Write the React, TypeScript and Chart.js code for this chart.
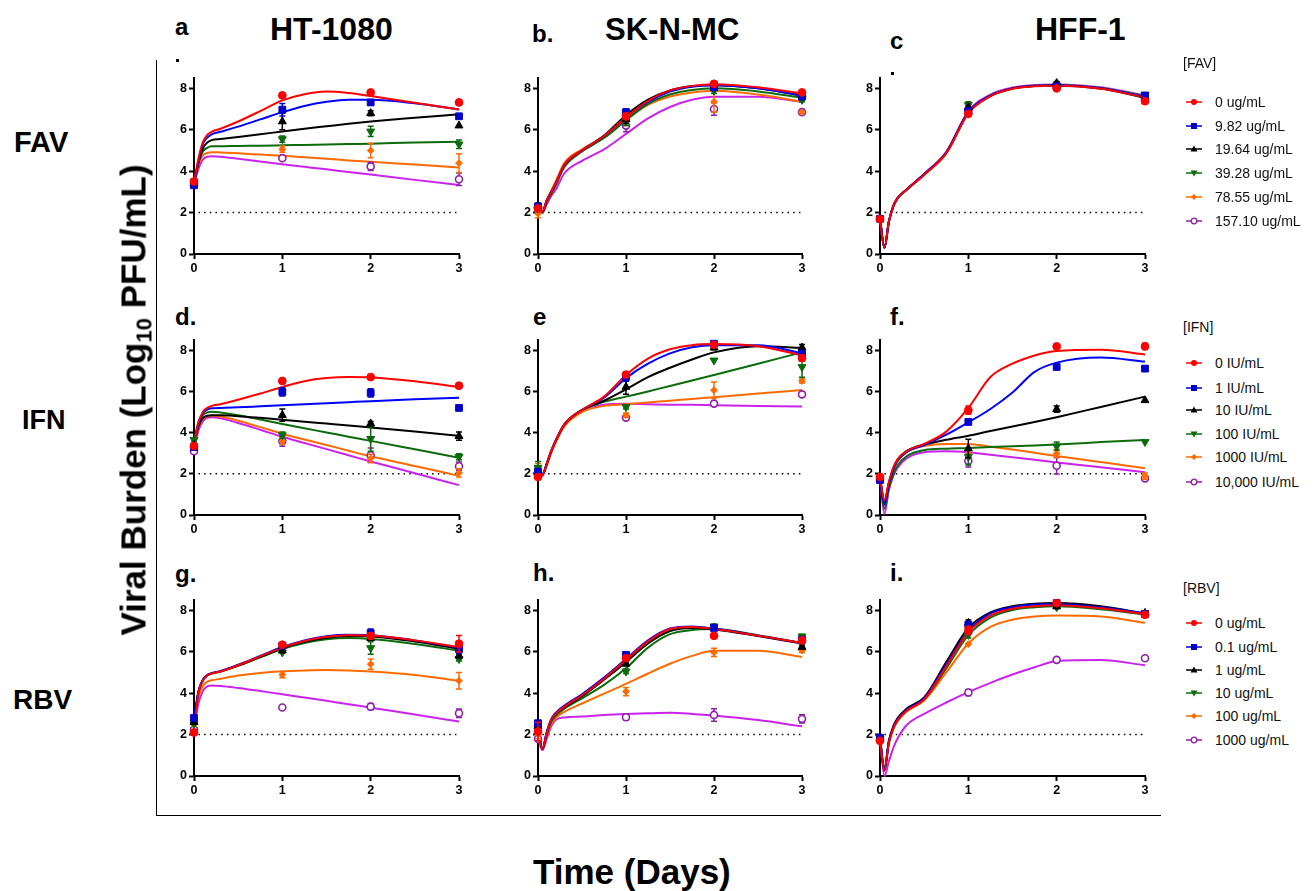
import React, { useEffect, useRef } from 'react';
import { Chart, registerables } from 'chart.js';
Chart.register(...registerables);

const FONT = "'Liberation Sans', Arial, Helvetica, sans-serif";

// ---------- data ----------
const DAYS = [0, 1, 2, 3];
const FIT_T = [0, 0.05, 0.1, 0.15, 0.2, 0.3, 0.5, 0.75, 1, 1.25, 1.5, 1.75, 2, 2.5, 3];
const Y_TICKS = [0, 2, 4, 6, 8];
const X_TICKS = [0, 1, 2, 3];
const LOD = 2;

const COL_TITLES = ['HT-1080', 'SK-N-MC', 'HFF-1'];
const ROW_TITLES = ['FAV', 'IFN', 'RBV'];
const PANEL_LETTERS = ['a', 'b.', 'c', 'd.', 'e', 'f.', 'g.', 'h.', 'i.'];
const LEGEND_TITLES = ['[FAV]', '[IFN]', '[RBV]'];
const FAV_LABELS = ['0 ug/mL', '9.82 ug/mL', '19.64 ug/mL', '39.28 ug/mL', '78.55 ug/mL', '157.10 ug/mL'];
const IFN_LABELS = ['0 IU/mL', '1 IU/mL', '10 IU/mL', '100 IU/mL', '1000 IU/mL', '10,000 IU/mL'];
const RBV_LABELS = ['0 ug/mL', '0.1 ug/mL', '1 ug/mL', '10 ug/mL', '100 ug/mL', '1000 ug/mL'];

// panel a: HT-1080 / FAV
const A_PTS = [[3.5, 7.66, 7.8, 7.32], [3.32, 6.97, 7.32, 6.65], [3.4, 6.4, 6.8, 6.2], [3.5, 5.55, 5.92, 5.3], [3.5, 5.06, 5.0, 4.39], [3.4, 4.63, 4.23, 3.61]];
const A_ERR = [[0.1, 0, 0, 0], [0.1, 0.3, 0.1, 0], [0, 0.4, 0.12, 0], [0, 0.15, 0.25, 0.2], [0, 0.15, 0.35, 0.45], [0, 0.1, 0.2, 0.3]];
const A_FIT = [
  [3.5, 4.6, 5.4, 5.75, 5.9, 6.05, 6.4, 6.9, 7.42, 7.72, 7.85, 7.78, 7.63, 7.3, 6.98],
  [3.35, 4.5, 5.3, 5.62, 5.78, 5.9, 6.15, 6.5, 6.85, 7.15, 7.35, 7.45, 7.45, 7.28, 6.98],
  [3.4, 4.4, 5.1, 5.38, 5.5, 5.55, 5.65, 5.78, 5.92, 6.05, 6.17, 6.29, 6.4, 6.58, 6.75],
  [3.5, 4.4, 4.95, 5.13, 5.2, 5.2, 5.22, 5.23, 5.25, 5.27, 5.29, 5.31, 5.33, 5.38, 5.42],
  [3.5, 4.3, 4.75, 4.88, 4.92, 4.9, 4.86, 4.8, 4.74, 4.67, 4.6, 4.52, 4.45, 4.32, 4.18],
  [3.4, 4.1, 4.55, 4.7, 4.72, 4.7, 4.6, 4.47, 4.33, 4.21, 4.09, 3.96, 3.84, 3.58, 3.33],
];

// panel b: SK-N-MC / FAV
const B_PTS = [[2.2, 6.65, 8.22, 7.8], [2.3, 6.85, 8.05, 7.6], [2.35, 6.5, 8.05, 7.7], [2.2, 6.4, 7.9, 7.45], [1.95, 6.4, 7.35, 6.85], [2.25, 6.2, 7.0, 6.85]];
const B_ERR = [[0.1, 0.15, 0, 0], [0.1, 0.15, 0.1, 0.1], [0.1, 0.2, 0.1, 0.1], [0.1, 0.2, 0.15, 0.1], [0.2, 0.2, 0.5, 0], [0.1, 0.3, 0.3, 0]];
const B_FIT = [
  [2.2, 2.05, 2.6, 3.0, 3.4, 4.3, 5.0, 5.7, 6.6, 7.4, 7.9, 8.12, 8.2, 8.05, 7.75],
  [2.3, 2.05, 2.6, 3.0, 3.4, 4.3, 5.0, 5.7, 6.6, 7.35, 7.85, 8.08, 8.15, 8.0, 7.65],
  [2.35, 2.05, 2.6, 3.0, 3.4, 4.3, 5.0, 5.72, 6.7, 7.45, 7.9, 8.1, 8.15, 8.0, 7.65],
  [2.2, 2.0, 2.5, 2.9, 3.3, 4.2, 4.95, 5.6, 6.45, 7.25, 7.7, 7.92, 8.0, 7.85, 7.55],
  [1.95, 2.0, 2.6, 3.05, 3.5, 4.4, 5.05, 5.65, 6.5, 7.2, 7.6, 7.8, 7.88, 7.7, 7.35],
  [2.25, 2.0, 2.4, 2.8, 3.1, 3.9, 4.5, 5.05, 5.8, 6.55, 7.1, 7.45, 7.6, 7.6, 7.35],
];

// panel c: HFF-1 / FAV
const C_PTS = [[1.68, 6.77, 8.0, 7.38], [1.7, 6.9, 8.1, 7.65], [1.7, 7.1, 8.25, 7.6], [1.7, 7.2, 8.15, 7.7], [1.7, 7.1, 8.1, 7.5], [1.7, 6.9, 8.1, 7.45]];
const C_ERR = [[0, 0, 0, 0], [0, 0, 0, 0], [0, 0, 0.08, 0], [0, 0.15, 0.1, 0], [0, 0.1, 0, 0], [0, 0, 0, 0]];
const C_FIT = [
  [1.7, 0.3, 1.55, 2.3, 2.7, 3.1, 3.83, 4.87, 6.8, 7.62, 7.98, 8.1, 8.13, 7.98, 7.56],
  [1.7, 0.3, 1.55, 2.3, 2.7, 3.1, 3.85, 4.9, 6.85, 7.65, 8.0, 8.12, 8.15, 8.0, 7.6],
  [1.7, 0.3, 1.55, 2.3, 2.7, 3.1, 3.84, 4.88, 6.82, 7.63, 7.99, 8.11, 8.14, 7.99, 7.55],
  [1.7, 0.3, 1.55, 2.3, 2.7, 3.1, 3.85, 4.9, 6.84, 7.65, 8.0, 8.12, 8.15, 8.02, 7.62],
  [1.7, 0.3, 1.55, 2.3, 2.7, 3.1, 3.83, 4.86, 6.82, 7.64, 8.0, 8.13, 8.16, 8.02, 7.62],
  [1.7, 0.3, 1.57, 2.32, 2.72, 3.12, 3.88, 4.94, 6.9, 7.7, 8.04, 8.16, 8.19, 8.05, 7.66],
];

// panel d: HT-1080 / IFN
const D_PTS = [[3.35, 6.51, 6.7, 6.28], [3.3, 5.98, 5.93, 5.2], [3.4, 4.85, 4.44, 3.83], [3.65, 3.88, 3.7, 2.83], [3.3, 3.59, 2.75, 2.05], [3.1, 3.59, 2.9, 2.37]];
const D_ERR = [[0, 0, 0, 0], [0, 0.2, 0.2, 0], [0, 0.3, 0.1, 0.2], [0.1, 0.15, 0.6, 0.15], [0, 0.15, 0.2, 0.2], [0.1, 0.25, 0.35, 0.2]];
const D_FIT = [
  [3.35, 4.5, 5.0, 5.2, 5.3, 5.38, 5.6, 5.9, 6.22, 6.5, 6.65, 6.7, 6.68, 6.5, 6.22],
  [3.3, 4.4, 4.95, 5.12, 5.18, 5.2, 5.23, 5.28, 5.33, 5.38, 5.43, 5.48, 5.53, 5.62, 5.7],
  [3.4, 4.3, 4.7, 4.82, 4.85, 4.84, 4.8, 4.72, 4.63, 4.53, 4.44, 4.35, 4.25, 4.05, 3.85],
  [3.65, 4.5, 4.85, 4.98, 5.02, 4.98, 4.85, 4.64, 4.42, 4.21, 4.01, 3.8, 3.6, 3.19, 2.78],
  [3.3, 4.25, 4.65, 4.8, 4.82, 4.78, 4.58, 4.27, 3.95, 3.67, 3.4, 3.12, 2.85, 2.38, 1.9],
  [3.1, 4.1, 4.55, 4.72, 4.75, 4.7, 4.47, 4.14, 3.8, 3.5, 3.2, 2.9, 2.6, 2.03, 1.45],
];

// panel e: SK-N-MC / IFN
const E_PTS = [[1.85, 6.82, 8.27, 7.62], [2.1, 6.7, 8.32, 7.84], [2.0, 6.22, 8.13, 8.13], [2.3, 5.25, 7.51, 7.19], [2.3, 4.85, 6.06, 6.51], [2.0, 4.73, 5.41, 5.86]];
const E_ERR = [[0.1, 0.1, 0.1, 0.15], [0.1, 0.2, 0.1, 0.1], [0.1, 0.35, 0.1, 0.15], [0.3, 0.1, 0, 0.5], [0.2, 0.1, 0.4, 0.1], [0.1, 0, 0, 0]];
const E_FIT = [
  [1.85, 1.9, 2.5, 3.1, 3.6, 4.4, 5.1, 5.75, 6.8, 7.6, 8.05, 8.25, 8.3, 8.2, 7.75],
  [2.1, 1.95, 2.5, 3.1, 3.6, 4.4, 5.1, 5.7, 6.65, 7.35, 7.85, 8.15, 8.25, 8.25, 7.85],
  [2.0, 1.95, 2.5, 3.1, 3.6, 4.4, 5.1, 5.55, 6.1, 6.7, 7.15, 7.55, 7.9, 8.2, 8.12],
  [2.3, 2.0, 2.5, 3.1, 3.6, 4.4, 5.1, 5.5, 5.75, 6.0, 6.27, 6.53, 6.8, 7.35, 7.9],
  [2.3, 1.95, 2.4, 3.0, 3.5, 4.3, 5.0, 5.3, 5.38, 5.47, 5.55, 5.64, 5.72, 5.9, 6.07],
  [2.0, 1.95, 2.45, 3.05, 3.55, 4.35, 5.1, 5.35, 5.4, 5.38, 5.36, 5.35, 5.33, 5.3, 5.27],
];

// panel f: HFF-1 / IFN
const F_PTS = [[1.85, 5.09, 8.19, 8.19], [1.7, 4.52, 7.19, 7.11], [1.8, 3.23, 5.14, 5.57], [1.8, 2.83, 3.34, 3.55], [1.8, 2.99, 2.99, 1.89], [1.75, 2.63, 2.39, 1.78]];
const F_ERR = [[0.1, 0.2, 0, 0.15], [0.1, 0, 0, 0.1], [0, 0.45, 0.15, 0], [0, 0.4, 0.2, 0], [0, 0.2, 0.2, 0.15], [0, 0.3, 0.4, 0]];
const F_FIT = [
  [1.8, 0.7, 1.6, 2.3, 2.7, 3.1, 3.45, 4.05, 5.2, 6.7, 7.35, 7.75, 7.97, 8.03, 7.8],
  [1.7, 0.5, 1.5, 2.2, 2.65, 3.05, 3.4, 3.9, 4.5, 5.15, 5.95, 6.95, 7.4, 7.65, 7.45],
  [1.8, 0.6, 1.55, 2.25, 2.7, 3.1, 3.42, 3.65, 3.85, 4.08, 4.3, 4.52, 4.75, 5.25, 5.75],
  [1.8, 0.3, 1.3, 1.95, 2.4, 2.85, 3.15, 3.22, 3.25, 3.3, 3.34, 3.38, 3.43, 3.54, 3.65],
  [1.8, 0.75, 1.5, 2.15, 2.6, 3.05, 3.35, 3.45, 3.45, 3.32, 3.18, 3.02, 2.87, 2.57, 2.27],
  [1.75, 0.05, 1.2, 1.9, 2.3, 2.75, 3.05, 3.1, 3.05, 2.93, 2.8, 2.68, 2.55, 2.32, 2.08],
];

// panel g: HT-1080 / RBV
const G_PTS = [[2.1, 6.34, 6.77, 6.39], [2.8, 6.29, 6.9, 6.13], [2.6, 6.05, 6.66, 5.81], [2.5, 5.97, 6.18, 5.65], [2.6, 4.89, 5.4, 4.6], [2.25, 3.31, 3.35, 3.03]];
const G_ERR = [[0.1, 0.1, 0.15, 0.4], [0.1, 0.1, 0.2, 0.2], [0, 0, 0.1, 0.1], [0, 0, 0.3, 0.1], [0.2, 0.15, 0.25, 0.4], [0, 0, 0.15, 0.2]];
const G_FIT = [
  [2.1, 4.0, 4.6, 4.85, 4.95, 5.05, 5.35, 5.78, 6.2, 6.52, 6.72, 6.8, 6.78, 6.55, 6.22],
  [2.8, 4.1, 4.65, 4.88, 4.97, 5.07, 5.37, 5.8, 6.23, 6.55, 6.75, 6.82, 6.8, 6.55, 6.2],
  [2.6, 4.05, 4.62, 4.86, 4.95, 5.05, 5.33, 5.75, 6.17, 6.48, 6.68, 6.76, 6.74, 6.5, 6.15],
  [2.5, 4.05, 4.62, 4.86, 4.95, 5.05, 5.32, 5.73, 6.13, 6.42, 6.6, 6.66, 6.62, 6.38, 6.05],
  [2.6, 3.8, 4.35, 4.55, 4.62, 4.7, 4.85, 4.98, 5.06, 5.1, 5.12, 5.1, 5.05, 4.88, 4.6],
  [2.25, 3.5, 4.1, 4.33, 4.37, 4.35, 4.25, 4.1, 3.95, 3.79, 3.63, 3.47, 3.3, 2.97, 2.63],
];

// panel h: SK-N-MC / RBV
const H_PTS = [[2.15, 5.69, 6.77, 6.55], [2.55, 5.85, 7.15, 6.58], [2.4, 5.42, 7.15, 6.23], [2.3, 5.05, 7.23, 6.74], [2.0, 4.08, 5.97, 6.06], [1.8, 2.84, 2.95, 2.76]];
const H_ERR = [[0.45, 0.1, 0, 0.1], [0.1, 0.1, 0.1, 0.1], [0.15, 0.1, 0.1, 0.1], [0.1, 0.1, 0.1, 0.1], [0.2, 0.2, 0.2, 0.1], [0.1, 0.15, 0.3, 0.2]];
const H_FIT = [
  [2.15, 1.3, 2.1, 2.7, 3.0, 3.35, 3.9, 4.7, 5.6, 6.5, 7.1, 7.2, 7.1, 6.78, 6.42],
  [2.55, 1.3, 2.15, 2.75, 3.05, 3.4, 3.95, 4.75, 5.65, 6.55, 7.12, 7.22, 7.12, 6.78, 6.42],
  [2.4, 1.3, 2.1, 2.7, 3.0, 3.32, 3.85, 4.65, 5.5, 6.4, 7.0, 7.15, 7.08, 6.76, 6.4],
  [2.3, 1.3, 2.0, 2.6, 2.9, 3.25, 3.75, 4.4, 5.2, 6.2, 6.85, 7.05, 7.1, 6.8, 6.42],
  [2.0, 1.3, 1.95, 2.5, 2.8, 3.1, 3.5, 3.98, 4.45, 4.95, 5.42, 5.8, 6.05, 6.05, 5.75],
  [1.8, 1.25, 1.8, 2.4, 2.7, 2.83, 2.87, 2.95, 3.0, 3.03, 3.05, 3.0, 2.92, 2.7, 2.4],
];

// panel i: HFF-1 / RBV
const I_PTS = [[1.7, 7.03, 8.35, 7.79], [1.85, 7.31, 8.35, 7.82], [1.8, 7.39, 8.19, 7.87], [1.8, 6.82, 8.16, 7.87], [1.8, 6.37, 8.16, 7.82], [1.8, 4.03, 5.61, 5.69]];
const I_ERR = [[0, 0.2, 0.1, 0], [0, 0, 0, 0], [0, 0.15, 0.1, 0], [0, 0.15, 0, 0], [0, 0, 0, 0], [0, 0.15, 0, 0]];
const I_FIT = [
  [1.7, 0.3, 1.6, 2.3, 2.7, 3.15, 3.7, 5.3, 6.95, 7.75, 8.08, 8.2, 8.25, 8.1, 7.82],
  [1.85, 0.3, 1.65, 2.35, 2.75, 3.2, 3.75, 5.4, 7.0, 7.85, 8.15, 8.28, 8.3, 8.15, 7.85],
  [1.8, 0.3, 1.7, 2.4, 2.8, 3.25, 3.8, 5.5, 7.15, 7.9, 8.2, 8.32, 8.35, 8.2, 7.85],
  [1.8, 0.25, 1.6, 2.3, 2.7, 3.15, 3.7, 5.2, 6.8, 7.65, 8.02, 8.15, 8.2, 8.05, 7.8],
  [1.8, 0.35, 1.55, 2.25, 2.65, 3.1, 3.65, 5.0, 6.4, 7.2, 7.55, 7.7, 7.75, 7.7, 7.4],
  [1.8, 0.0, 0.7, 1.35, 1.82, 2.45, 3.0, 3.55, 4.05, 4.5, 4.9, 5.25, 5.55, 5.6, 5.35],
];

// ---------- styles ----------
const MARKER_COLORS = ['#ff0000', '#0000cc', '#000000', '#0b6b0b', '#ff6a00', '#8e1fa8'];
const LINE_COLORS = ['#ff0000', '#0000ff', '#000000', '#0b6b0b', '#ff6a00', '#cc22ee'];
const POINT_STYLES = ['circle', 'rect', 'triangle', 'triangle', 'rectRot', 'circle'];
const POINT_ROT = [0, 0, 0, 180, 0, 0];
const POINT_R = [3.9, 4.8, 4.6, 4.6, 3.4, 3.5];

const COL_X = [[194, 459], [538, 802], [880, 1145]];
const ROW_Y = [[78, 254], [340, 515], [600, 776]];
const PAD_L = 40, PAD_T = 10, PAD_R = 14, PAD_B = 26;

const PANELS = [
  { pts: A_PTS, errs: A_ERR, fits: A_FIT }, { pts: B_PTS, errs: B_ERR, fits: B_FIT }, { pts: C_PTS, errs: C_ERR, fits: C_FIT },
  { pts: D_PTS, errs: D_ERR, fits: D_FIT }, { pts: E_PTS, errs: E_ERR, fits: E_FIT }, { pts: F_PTS, errs: F_ERR, fits: F_FIT },
  { pts: G_PTS, errs: G_ERR, fits: G_FIT }, { pts: H_PTS, errs: H_ERR, fits: H_FIT }, { pts: I_PTS, errs: I_ERR, fits: I_FIT },
];

const errorBars = {
  id: 'errorBars',
  beforeDatasetDraw(chart: any, args: any) {
    const ds: any = chart.data.datasets[args.index];
    if (!ds.errs) return;
    const ys = chart.scales.y;
    const ctx = chart.ctx;
    ctx.save();
    ctx.strokeStyle = ds.pointBorderColor;
    ctx.lineWidth = 1.5;
    args.meta.data.forEach((pt: any, j: number) => {
      const e = ds.errs[j];
      if (!e) return;
      const v = ds.data[j].y;
      const y1 = ys.getPixelForValue(v + e);
      const y2 = ys.getPixelForValue(v - e);
      const x = pt.x;
      ctx.beginPath();
      ctx.moveTo(x, y1); ctx.lineTo(x, y2);
      ctx.moveTo(x - 3, y1); ctx.lineTo(x + 3, y1);
      ctx.moveTo(x - 3, y2); ctx.lineTo(x + 3, y2);
      ctx.stroke();
    });
    ctx.restore();
  },
};

function Panel({ idx }: { idx: number }) {
  const ref = useRef<HTMLCanvasElement>(null);
  const p = PANELS[idx];
  const [x0, x1] = COL_X[idx % 3];
  const [y0, y1] = ROW_Y[Math.floor(idx / 3)];
  const w = x1 - x0 + PAD_L + PAD_R;
  const h = y1 - y0 + PAD_T + PAD_B;
  useEffect(() => {
    const datasets: any[] = [];
    p.pts.forEach((vals, i) => {
      datasets.push({
        data: DAYS.map((d, j) => ({ x: d, y: vals[j] })),
        showLine: false,
        pointStyle: POINT_STYLES[i],
        rotation: POINT_ROT[i],
        pointRotation: POINT_ROT[i],
        pointRadius: POINT_R[i],
        pointBackgroundColor: i === 5 ? '#ffffff' : MARKER_COLORS[i],
        pointBorderColor: MARKER_COLORS[i],
        borderColor: MARKER_COLORS[i],
        pointBorderWidth: i === 5 ? 1.6 : 1,
        errs: p.errs[i],
        clip: false,
        order: 0,
      });
    });
    p.fits.forEach((vals, i) => {
      datasets.push({
        data: FIT_T.map((t, j) => ({ x: t, y: vals[j] })),
        borderColor: LINE_COLORS[i],
        borderWidth: 2,
        pointRadius: 0,
        cubicInterpolationMode: 'monotone',
        fill: false,
        clip: false,
        order: 1,
      });
    });
    datasets.push({
      data: [{ x: 0.05, y: LOD }, { x: 3, y: LOD }],
      borderColor: '#000',
      borderWidth: 1.5,
      borderDash: [1.5, 4.2],
      pointRadius: 0,
      order: 2,
    });
    const tickFont = { family: FONT, size: 12.5, weight: 'bold' as const };
    const chart = new Chart(ref.current as HTMLCanvasElement, {
      type: 'line',
      data: { datasets },
      plugins: [errorBars],
      options: {
        animation: false,
        responsive: false,
        devicePixelRatio: 1,
        events: [],
        layout: { padding: { top: PAD_T, right: PAD_R, left: 0, bottom: 0 } },
        plugins: { legend: { display: false }, tooltip: { enabled: false } },
        scales: {
          x: {
            type: 'linear', min: 0, max: 3,
            afterBuildTicks: (s: any) => { s.ticks = X_TICKS.map((v) => ({ value: v })); },
            afterFit: (s: any) => { s.height = PAD_B; },
            ticks: { font: tickFont, color: '#000', padding: 2, maxRotation: 0 },
            grid: { display: true, drawOnChartArea: false, drawTicks: true, tickLength: 5, tickWidth: 2, color: '#000' },
            border: { display: true, color: '#000', width: 2 },
          },
          y: {
            type: 'linear', min: 0, max: 8.5,
            afterBuildTicks: (s: any) => { s.ticks = Y_TICKS.map((v) => ({ value: v })); },
            afterFit: (s: any) => { s.width = PAD_L; },
            ticks: { font: tickFont, color: '#000', padding: 2 },
            grid: { display: true, drawOnChartArea: false, drawTicks: true, tickLength: 5, tickWidth: 2, color: '#000' },
            border: { display: true, color: '#000', width: 2 },
          },
        },
      } as any,
    });
    return () => chart.destroy();
  }, []);
  return (
    <canvas
      ref={ref}
      width={w}
      height={h}
      style={{ position: 'absolute', left: x0 - PAD_L, top: y0 - PAD_T, width: w, height: h }}
    />
  );
}

function Txt({ x, base, size, bold = true, children, weight }: any) {
  return (
    <div
      style={{
        position: 'absolute', left: x, top: base - 0.8465 * size, fontSize: size, lineHeight: 1,
        fontFamily: FONT, fontWeight: weight ?? (bold ? 'bold' : 'normal'), whiteSpace: 'nowrap', color: '#000',
      }}
    >
      {children}
    </div>
  );
}

function LegendMarker({ i }: { i: number }) {
  const c = MARKER_COLORS[i];
  const cx = 8, cy = 5;
  let m: any;
  if (i === 0) m = <circle cx={cx} cy={cy} r={3} fill={c} />;
  else if (i === 1) m = <rect x={cx - 3} y={cy - 3} width={6} height={6} fill={c} />;
  else if (i === 2) m = <polygon points={`${cx},${cy - 3.5} ${cx + 3.5},${cy + 2.5} ${cx - 3.5},${cy + 2.5}`} fill={c} />;
  else if (i === 3) m = <polygon points={`${cx},${cy + 3.5} ${cx + 3.5},${cy - 2.5} ${cx - 3.5},${cy - 2.5}`} fill={c} />;
  else if (i === 4) m = <polygon points={`${cx},${cy - 3} ${cx + 3},${cy} ${cx},${cy + 3} ${cx - 3},${cy}`} fill={c} />;
  else m = <circle cx={cx} cy={cy} r={2.8} fill="#fff" stroke={c} strokeWidth={1.3} />;
  return (
    <svg width={17} height={10} style={{ position: 'absolute', left: 0, top: -5 }}>
      <line x1={0} y1={cy} x2={16} y2={cy} stroke={c} strokeWidth={1.5} />
      {m}
    </svg>
  );
}

function Legend({ title, labels, titleY, itemY }: any) {
  return (
    <>
      <div style={{ position: 'absolute', left: 1183, top: titleY - 8, height: 16, lineHeight: '16px', fontSize: 14, fontFamily: FONT, color: '#111' }}>{title}</div>
      {labels.map((l: string, i: number) => (
        <div key={i} style={{ position: 'absolute', left: 1186, top: itemY[i] }}>
          <LegendMarker i={i} />
          <div style={{ position: 'absolute', left: 29, top: -8, height: 16, lineHeight: '16px', fontSize: 14, fontFamily: FONT, color: '#111', whiteSpace: 'nowrap' }}>{l}</div>
        </div>
      ))}
    </>
  );
}

export default function App() {
  useEffect(() => {
    document.body.style.margin = '0';
  }, []);
  const letterPos = [[175, 35], [532, 42], [890, 49], [175, 325], [533, 325], [890, 325], [175, 582], [533, 581], [890, 581]];
  return (
    <div style={{ position: 'absolute', left: 0, top: 0, width: 1313, height: 891, background: '#fff', overflow: 'hidden' }}>
      {/* frame */}
      <div style={{ position: 'absolute', left: 156, top: 60, width: 1004, height: 755, borderLeft: '1.5px solid #000', borderBottom: '1.5px solid #000' }} />
      {PANELS.map((_, i) => <Panel key={i} idx={i} />)}
      {/* column titles */}
      <Txt x={270} base={40} size={32}>{COL_TITLES[0]}</Txt>
      <Txt x={605} base={40} size={31}>{COL_TITLES[1]}</Txt>
      <Txt x={1035} base={40} size={32}>{COL_TITLES[2]}</Txt>
      {/* row titles */}
      <Txt x={14} base={153} size={29}>{ROW_TITLES[0]}</Txt>
      <Txt x={22} base={430} size={27}>{ROW_TITLES[1]}</Txt>
      <Txt x={13} base={710} size={28}>{ROW_TITLES[2]}</Txt>
      {/* panel letters */}
      {PANEL_LETTERS.map((t, i) => (
        <Txt key={i} x={letterPos[i][0]} base={letterPos[i][1]} size={24}>{t}</Txt>
      ))}
      <div style={{ position: 'absolute', left: 176, top: 59, width: 3, height: 3, background: '#000' }} />
      <div style={{ position: 'absolute', left: 891, top: 72, width: 3, height: 3, background: '#000' }} />
      {/* axis titles */}
      <div
        style={{
          position: 'absolute', left: 133, top: 400, transform: 'translate(-50%, -50%) rotate(-90deg)',
          fontFamily: FONT, fontWeight: 'bold', fontSize: 35, lineHeight: 1, whiteSpace: 'nowrap', color: '#000',
        }}
      >
        Viral Burden (Log<sub style={{ fontSize: 22, verticalAlign: -6, lineHeight: 0 }}>10</sub> PFU/mL)
      </div>
      <Txt x={533} base={884} size={35}>Time (Days)</Txt>
      {/* legends */}
      <Legend title={LEGEND_TITLES[0]} labels={FAV_LABELS} titleY={63} itemY={[102, 126, 149, 173, 197, 221]} />
      <Legend title={LEGEND_TITLES[1]} labels={IFN_LABELS} titleY={327} itemY={[363, 388, 410, 434, 457, 482]} />
      <Legend title={LEGEND_TITLES[2]} labels={RBV_LABELS} titleY={588} itemY={[623, 647, 670, 693, 716, 740]} />
    </div>
  );
}
